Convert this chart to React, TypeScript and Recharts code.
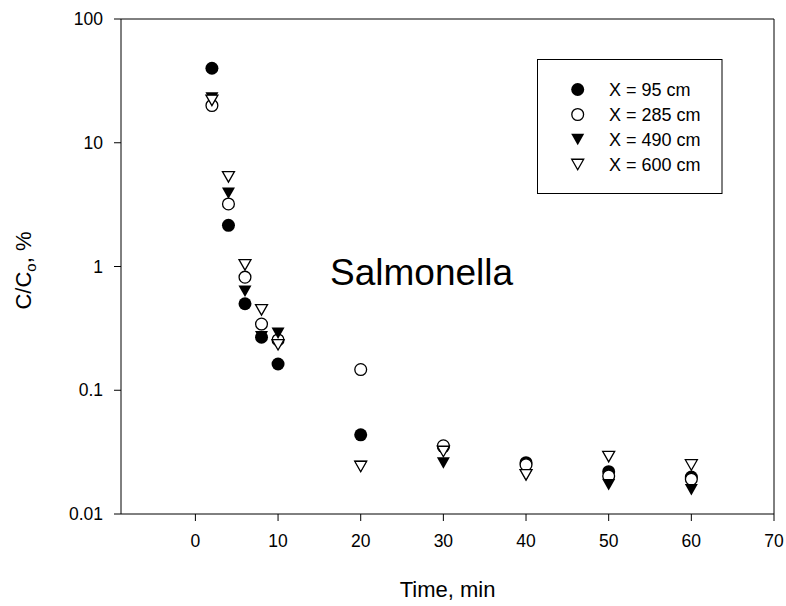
import React from 'react';
import { ScatterChart, Scatter, XAxis, YAxis, ReferenceLine } from 'recharts';

// sampling times, min
const times = [2, 4, 6, 8, 10, 20, 30, 40, 50, 60];

// C/Co, % at each distance
const x95 = [40, 2.15, 0.5, 0.268, 0.163, 0.0436, 0.035, 0.026, 0.022, 0.0199];
const x285 = [20, 3.2, 0.82, 0.343, 0.255, 0.147, 0.0356, 0.025, 0.0203, 0.0191];
const x490 = [23, 3.9, 0.63, 0.27, 0.289, 0.0242, 0.0258, 0.0207, 0.0172, 0.0157];
const x600 = [22, 5.3, 1.03, 0.446, 0.233, 0.0242, 0.032, 0.0207, 0.0291, 0.0249];

const xTicks = [0, 10, 20, 30, 40, 50, 60, 70];
const yTicks = [0.01, 0.1, 1, 10, 100];

const seriesNames = ['X = 95 cm', 'X = 285 cm', 'X = 490 cm', 'X = 600 cm'];

const toPoints = (vals: number[]) => times.map((t, i) => ({ x: t, y: vals[i] }));

const FONT = '"Liberation Sans", Arial, sans-serif';

// markers
const FilledCircle = ({ cx, cy }: any) => <circle cx={cx} cy={cy} r={6.5} fill="#000" />;
const OpenCircle = ({ cx, cy }: any) => (
  <circle cx={cx} cy={cy} r={5.9} fill="#fff" stroke="#000" strokeWidth={1.3} />
);
const triPath = (cx: number, cy: number, w: number, h: number) =>
  `M${cx - w / 2},${cy - h / 2}L${cx + w / 2},${cy - h / 2}L${cx},${cy + h / 2}Z`;
const FilledTriangle = ({ cx, cy }: any) => <path d={triPath(cx, cy, 13, 11.5)} fill="#000" />;
const OpenTriangle = ({ cx, cy }: any) => (
  <path d={triPath(cx, cy, 12, 10.5)} fill="#fff" stroke="#000" strokeWidth={1.3} strokeLinejoin="miter" />
);

const markers = [FilledCircle, OpenCircle, FilledTriangle, OpenTriangle];
const seriesData = [x95, x285, x490, x600];

export default function App() {
  return (
    <div style={{ position: 'absolute', left: 0, top: 0, width: 786, height: 606, background: '#fff', fontFamily: FONT }}>
      <ScatterChart width={786} height={606} margin={{ top: 19, right: 12, bottom: 52, left: 0 }}>
        <XAxis
          type="number"
          dataKey="x"
          domain={[-9, 70]}
          ticks={xTicks}
          allowDataOverflow
          height={40}
          tickSize={7}
          tickMargin={14}
          stroke="#000"
          tick={{ fontSize: 17.5, fill: '#000' }}
          label={{
            content: ({ viewBox }: any) => (
              <text
                x={viewBox.x + viewBox.width / 2}
                y={viewBox.y + 83}
                textAnchor="middle"
                fontSize={22}
                fill="#000"
              >
                Time, min
              </text>
            ),
          }}
        />
        <YAxis
          type="number"
          dataKey="y"
          scale="log"
          domain={[0.01, 100]}
          ticks={yTicks}
          allowDataOverflow
          width={121}
          tickSize={7}
          tickMargin={11}
          stroke="#000"
          tick={{ fontSize: 17.5, fill: '#000' }}
          label={{
            content: ({ viewBox }: any) => {
              const cx = 30.5;
              const cy = viewBox.y + viewBox.height / 2 + 4;
              return (
                <text
                  x={cx}
                  y={cy}
                  transform={`rotate(-90 ${cx} ${cy})`}
                  textAnchor="middle"
                  fontSize={22}
                  fill="#000"
                >
                  C/C
                  <tspan dy={5} fontSize={15}>o</tspan>
                  <tspan dy={-5}>, %</tspan>
                </text>
              );
            },
          }}
        />
        <ReferenceLine y={100} stroke="#000" />
        <ReferenceLine x={70} stroke="#000" />
        {seriesData.map((vals, i) => (
          <Scatter
            key={seriesNames[i]}
            name={seriesNames[i]}
            data={toPoints(vals)}
            shape={markers[i]}
            isAnimationActive={false}
          />
        ))}
      </ScatterChart>

      <svg
        width={786}
        height={606}
        style={{ position: 'absolute', left: 0, top: 0, pointerEvents: 'none' }}
      >
        <text x={330} y={285} fontSize={37} fill="#000" fontFamily={FONT}>
          Salmonella
        </text>
        <rect x={537.5} y={59.5} width={184.5} height={134} fill="#fff" stroke="#000" strokeWidth={1} />
        {seriesNames.map((name, i) => {
          const Marker = markers[i];
          const cy = 89.5 + i * 25;
          return (
            <g key={name}>
              <Marker cx={577.7} cy={cy} />
              <text x={609} y={cy + 6.4} fontSize={18} fill="#000" fontFamily={FONT}>
                {name}
              </text>
            </g>
          );
        })}
      </svg>
    </div>
  );
}
